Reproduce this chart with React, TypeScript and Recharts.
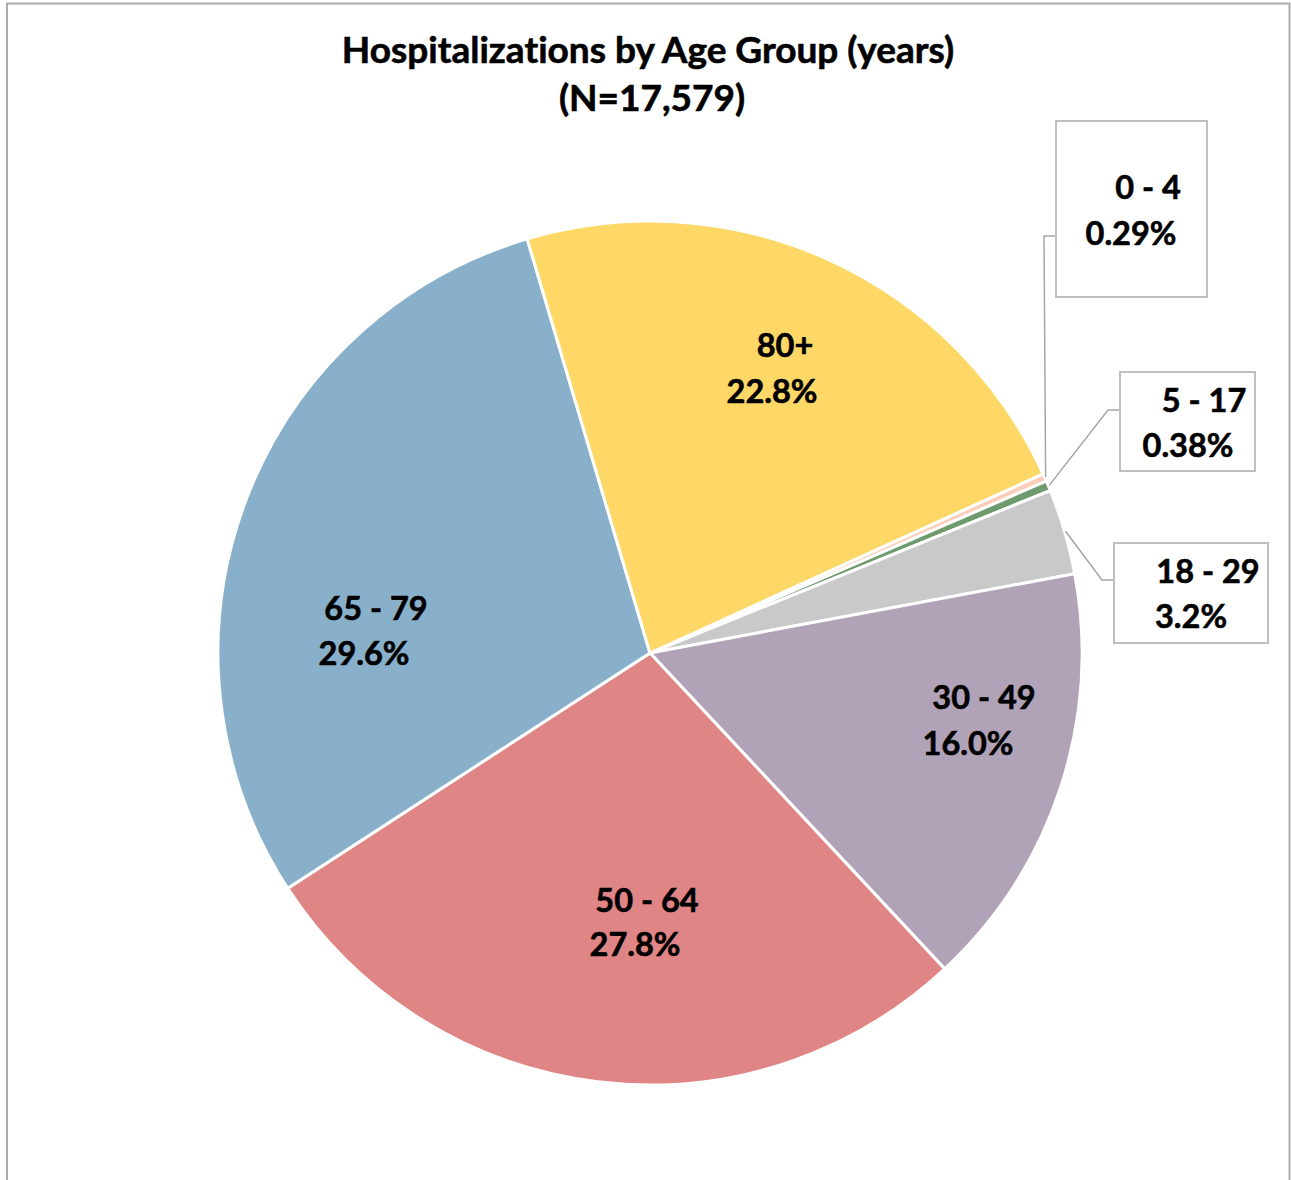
import React from 'react';
import { PieChart, Pie, Cell } from 'recharts';

const categories = ['0 - 4', '5 - 17', '18 - 29', '30 - 49', '50 - 64', '65 - 79', '80+'];
const percents = [0.29, 0.38, 3.2, 16.0, 27.8, 29.6, 22.8];
const percentLabels = ['0.29%', '0.38%', '3.2%', '16.0%', '27.8%', '29.6%', '22.8%'];
const colors = ['#FCCDB8', '#6E9B6E', '#C9C9C9', '#B0A2B7', '#E08585', '#88B0CA', '#FDD867'];

const TITLE = 'Hospitalizations by Age Group (years)';
const SUBTITLE = '(N=17,579)';

const data = categories.map((name, i) => ({ name, value: percents[i], pct: percentLabels[i] }));

const W = 1291;
const H = 1180;
const CX = 650;
const CY = 653;
const R = 432;
const START = 24.5;
const FONT = 'Lato, "Open Sans", sans-serif';
const FS = 32.5;

const noLig = { fontVariantLigatures: 'none' as const, fontFeatureSettings: '"liga" 0, "clig" 0' };

type Inside = { kind: 'in'; l1: [number, number]; l2: [number, number] };
type Outside = {
  kind: 'out';
  box: [number, number, number, number];
  l1: [number, number];
  l2: [number, number];
  elbow: [number, number];
  end: [number, number];
};
// label layout (absolute page coordinates of text centers/baselines and boxes)
const labelLayout: Record<string, Inside | Outside> = {
  '0 - 4': { kind: 'out', box: [1056, 121, 1207, 297], l1: [1148, 199], l2: [1131, 245], elbow: [1044, 236], end: [1056, 236] },
  '5 - 17': { kind: 'out', box: [1120, 372, 1255, 471], l1: [1204, 412], l2: [1188, 457], elbow: [1108, 410], end: [1120, 410] },
  '18 - 29': { kind: 'out', box: [1114, 543, 1268, 643], l1: [1208, 583], l2: [1191, 628], elbow: [1102, 580], end: [1114, 580] },
  '30 - 49': { kind: 'in', l1: [984, 709], l2: [968, 755] },
  '50 - 64': { kind: 'in', l1: [647, 912], l2: [635, 956] },
  '65 - 79': { kind: 'in', l1: [376, 620], l2: [364, 665] },
  '80+': { kind: 'in', l1: [785, 357], l2: [772, 403] },
};

const RAD = Math.PI / 180;

const textProps = {
  fontFamily: FONT,
  fontWeight: 700,
  fontSize: FS,
  fill: '#000',
  stroke: '#000',
  strokeWidth: 0.6,
  textAnchor: 'middle' as const,
  style: noLig,
};

const renderLabel = (props: any) => {
  const { cx, cy, midAngle, outerRadius, index } = props;
  const name = categories[index];
  const pct = percentLabels[index];
  const lay = labelLayout[name];
  if (!lay) return null;
  const dx = cx - CX;
  const dy = cy - CY;
  if (lay.kind === 'in') {
    return (
      <g key={`lbl-${index}`}>
        <text x={lay.l1[0] + dx} y={lay.l1[1] + dy} {...textProps}>{name}</text>
        <text x={lay.l2[0] + dx} y={lay.l2[1] + dy} {...textProps}>{pct}</text>
      </g>
    );
  }
  const sx = cx + (outerRadius + 1) * Math.cos(-midAngle * RAD);
  const sy = cy + (outerRadius + 1) * Math.sin(-midAngle * RAD);
  const [x1, y1, x2, y2] = lay.box;
  return (
    <g key={`lbl-${index}`}>
      <polyline
        points={`${sx},${sy} ${lay.elbow[0] + dx},${lay.elbow[1] + dy} ${lay.end[0] + dx},${lay.end[1] + dy}`}
        fill="none"
        stroke="#A6A6A6"
        strokeWidth={1.5}
      />
      <rect x={x1 + dx} y={y1 + dy} width={x2 - x1} height={y2 - y1} fill="#fff" stroke="#BFBFBF" strokeWidth={2} />
      <text x={lay.l1[0] + dx} y={lay.l1[1] + dy} {...textProps}>{name}</text>
      <text x={lay.l2[0] + dx} y={lay.l2[1] + dy} {...textProps}>{pct}</text>
    </g>
  );
};

export default function App() {
  return (
    <div style={{ position: 'absolute', left: 0, top: 0, width: W, height: H, background: '#fff' }}>
      <PieChart width={W} height={H} margin={{ top: 0, right: 0, bottom: 0, left: 0 }}>
        <Pie
          data={data}
          dataKey="value"
          nameKey="name"
          cx={CX}
          cy={CY}
          outerRadius={R}
          innerRadius={0}
          startAngle={START}
          endAngle={START - 360}
          stroke="#ffffff"
          strokeWidth={3}
          label={renderLabel}
          labelLine={false}
          isAnimationActive={false}
        >
          {data.map((d, i) => (
            <Cell key={d.name} fill={colors[i]} />
          ))}
        </Pie>
      </PieChart>
      <svg
        width={W}
        height={H}
        style={{ position: 'absolute', left: 0, top: 0, pointerEvents: 'none' }}
      >
        <path d={`M7,${H} L7,3.5 L1289.5,3.5 L1289.5,${H}`} fill="none" stroke="#ABABAB" strokeWidth={2} />
        <text x={648} y={63} textAnchor="middle" fontFamily={FONT} fontWeight={700} fontSize={37} fill="#000" stroke="#000" strokeWidth={0.6} style={noLig}>
          {TITLE}
        </text>
        <text x={652} y={111} textAnchor="middle" fontFamily={FONT} fontWeight={700} fontSize={37} fill="#000" stroke="#000" strokeWidth={0.6} style={noLig}>
          {SUBTITLE}
        </text>
      </svg>
    </div>
  );
}
